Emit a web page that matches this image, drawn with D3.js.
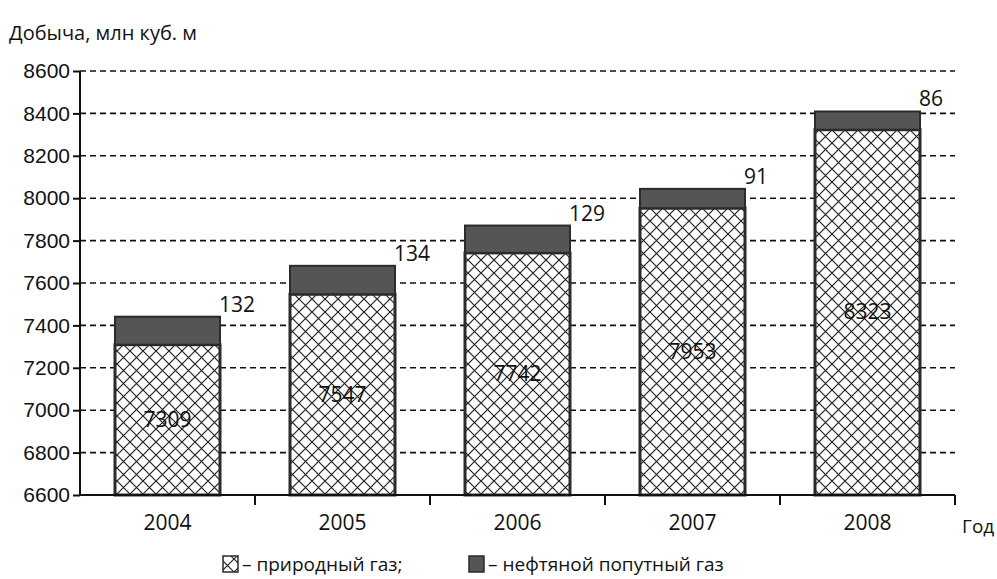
<!DOCTYPE html>
<html>
<head>
<meta charset="utf-8">
<script src="https://cdn.jsdelivr.net/npm/d3@7"></script>
<style>
  html, body { margin: 0; padding: 0; background: #fff; }
  svg { display: block; font-family: "Open Sans", "Noto Sans", sans-serif; }
</style>
</head>
<body>
<svg id="chart" width="997" height="579"></svg>
<script>
// Gas production by year, million cubic metres
const years = ["2004", "2005", "2006", "2007", "2008"];
const naturalGas = [7309, 7547, 7742, 7953, 8323];
const associatedGas = [132, 134, 129, 91, 86];
const yTicks = [6600, 6800, 7000, 7200, 7400, 7600, 7800, 8000, 8200, 8400, 8600];
const seriesNames = ["– природный газ;", "– нефтяной попутный газ"];

const svg = d3.select("#chart");
const plotLeft = 80, plotRight = 955, plotTop = 71, plotBottom = 495;

const x = d3.scaleBand().domain(years).range([plotLeft, plotRight]).paddingInner(0.4).paddingOuter(0.2);
const xBand = d3.scaleBand().domain(years).range([plotLeft, plotRight]);
const y = d3.scaleLinear().domain([yTicks[0], yTicks[yTicks.length - 1]]).range([plotBottom, plotTop]);

// Crosshatch fill for natural gas
const defs = svg.append("defs");
const hatch = defs.append("pattern")
  .attr("id", "hatch").attr("patternUnits", "userSpaceOnUse")
  .attr("width", 13).attr("height", 13);
hatch.append("rect").attr("width", 13).attr("height", 13).attr("fill", "#fff");
hatch.append("path").attr("d", "M0,0L13,13M13,0L0,13M-1,12L1,14M12,-1L14,1")
  .attr("stroke", "#222").attr("stroke-width", 1.2).attr("fill", "none");

// Dashed gridlines
svg.append("g").selectAll("line").data(yTicks.slice(1)).join("line")
  .attr("x1", plotLeft).attr("x2", plotRight)
  .attr("y1", d => y(d)).attr("y2", d => y(d))
  .attr("stroke", "#111").attr("stroke-width", 1.6).attr("stroke-dasharray", "6,4");

// Stack: natural gas below, associated gas on top
const rows = years.map((yr, i) => ({ year: yr, nat: naturalGas[i], assoc: associatedGas[i] }));
const stack = d3.stack().keys(["nat", "assoc"])(rows);
const base = y.domain()[0];

const bars = svg.append("g");
bars.selectAll("rect.nat").data(stack[0]).join("rect")
  .attr("class", "nat")
  .attr("x", d => x(d.data.year)).attr("width", x.bandwidth())
  .attr("y", d => y(d[1])).attr("height", d => y(Math.max(d[0], base)) - y(d[1]))
  .attr("fill", "url(#hatch)").attr("stroke", "#2b2b2b").attr("stroke-width", 3);
bars.selectAll("rect.assoc").data(stack[1]).join("rect")
  .attr("class", "assoc")
  .attr("x", d => x(d.data.year)).attr("width", x.bandwidth())
  .attr("y", d => y(d[1])).attr("height", d => y(d[0]) - y(d[1]))
  .attr("fill", "#555").attr("stroke", "#2b2b2b").attr("stroke-width", 2);

// Value labels
bars.selectAll("text.nat").data(stack[0]).join("text")
  .attr("class", "nat")
  .attr("x", d => x(d.data.year) + x.bandwidth() / 2)
  .attr("y", d => (y(Math.max(d[0], base)) + y(d[1])) / 2 + 7)
  .attr("text-anchor", "middle").attr("font-size", 21).attr("fill", "#111")
  .text(d => d.data.nat);
bars.selectAll("text.assoc").data(stack[1]).join("text")
  .attr("class", "assoc")
  .attr("x", d => x(d.data.year) + x.bandwidth() - 1)
  .attr("y", d => y(d[1]) - 5)
  .attr("text-anchor", "start").attr("font-size", 21).attr("fill", "#111")
  .text(d => d.data.assoc);

// Y axis
const yAxis = svg.append("g").attr("transform", `translate(${plotLeft},0)`)
  .call(d3.axisLeft(y).tickValues(yTicks).tickSize(7).tickPadding(3).tickFormat(d3.format("d")));
yAxis.select(".domain").attr("stroke", "#111").attr("stroke-width", 2).attr("d", `M0,${plotTop}V${plotBottom}`);
yAxis.selectAll(".tick line").attr("stroke", "#111").attr("stroke-width", 2);
yAxis.selectAll("text").attr("font-size", 21).attr("fill", "#111");

// X axis with boundary ticks between years
const xAxis = svg.append("g").attr("transform", `translate(0,${plotBottom})`);
xAxis.append("line").attr("x1", plotLeft).attr("x2", plotRight).attr("stroke", "#111").attr("stroke-width", 2);
const bounds = years.slice(1).map(yr => xBand(yr)).concat([plotRight]);
xAxis.selectAll("line.tk").data(bounds).join("line").attr("class", "tk")
  .attr("x1", d => d).attr("x2", d => d).attr("y1", 0).attr("y2", 10)
  .attr("stroke", "#111").attr("stroke-width", 2);
xAxis.selectAll("text").data(years).join("text")
  .attr("x", d => xBand(d) + xBand.bandwidth() / 2).attr("y", 35)
  .attr("text-anchor", "middle").attr("font-size", 21).attr("fill", "#111")
  .text(d => d);

// Axis titles
svg.append("text").attr("x", 9).attr("y", 40).attr("font-size", 20).attr("fill", "#111")
  .text("Добыча, млн куб. м");
svg.append("text").attr("x", 962).attr("y", 533).attr("font-size", 19).attr("fill", "#111")
  .text("Год");

// Legend
const legend = svg.append("g");
legend.append("rect").attr("x", 223).attr("y", 556).attr("width", 15).attr("height", 16)
  .attr("fill", "url(#hatch)").attr("stroke", "#2b2b2b").attr("stroke-width", 1.5);
legend.append("text").attr("x", 242).attr("y", 571).attr("font-size", 19).attr("fill", "#111")
  .text(seriesNames[0]);
legend.append("rect").attr("x", 469).attr("y", 556).attr("width", 15).attr("height", 16)
  .attr("fill", "#555").attr("stroke", "#2b2b2b").attr("stroke-width", 1.5);
legend.append("text").attr("x", 488).attr("y", 571).attr("font-size", 19).attr("fill", "#111")
  .text(seriesNames[1]);
</script>
</body>
</html>
